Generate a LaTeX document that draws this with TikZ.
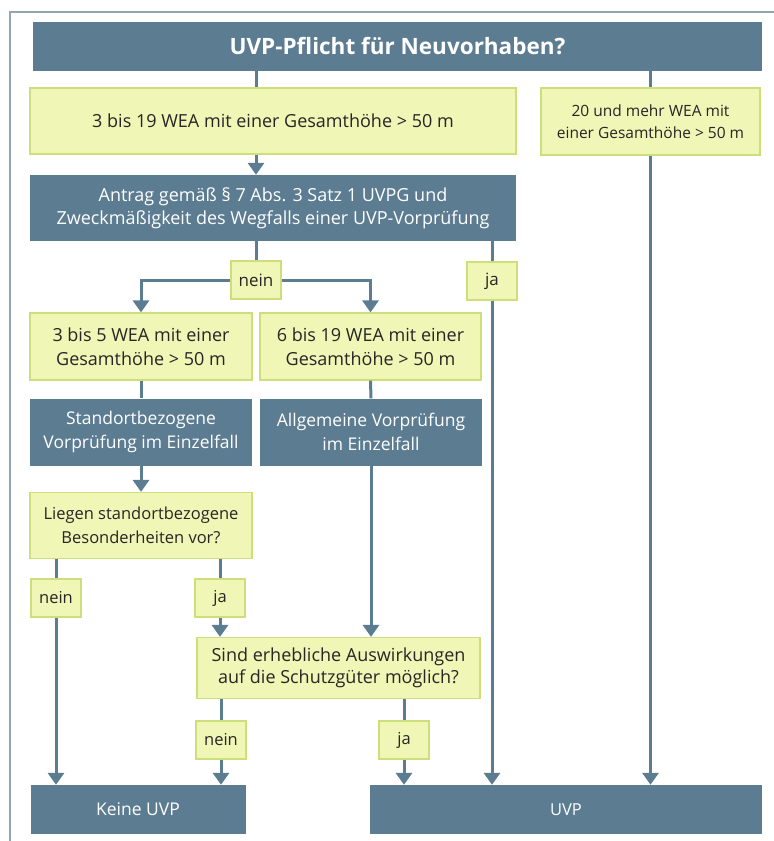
\documentclass[tikz,border=0pt]{standalone}
\usepackage{fontspec}
\setmainfont{Open Sans}
\usetikzlibrary{positioning}
\usetikzlibrary{arrows.meta}
\definecolor{slate}{RGB}{92,124,146}
\definecolor{paleYellow}{RGB}{239,246,182}
\definecolor{yellowEdge}{RGB}{206,222,122}
\definecolor{frameGray}{RGB}{150,166,176}
\definecolor{inkGray}{RGB}{38,38,38}

\begin{document}
\begin{tikzpicture}[x=1pt, y=-1pt,
  darkBox/.style={fill=slate, text=white, inner sep=0pt, align=center},
  lightBox/.style={fill=paleYellow, draw=yellowEdge, line width=1.2pt, text=inkGray,
    inner sep=0pt, align=center},
  labelBox/.style={lightBox, minimum width=50, minimum height=38},
  myLine/.style={slate, line width=3pt},
  myArrow/.style={myLine, -{Triangle[width=16pt,length=12pt]}}
]

\useasboundingbox (0,0) rectangle (774,841);

% frame
\draw[frameGray, line width=1.5pt] (10,841) -- (10,12) -- (774,12);

% top row
\node[darkBox, minimum width=729, minimum height=49,
  font=\bfseries\fontsize{22.5}{26}\selectfont] (titel) at (397.5,46.5)
  {UVP-Pflicht für Neuvorhaben?};

\node[lightBox, minimum width=486, minimum height=66,
  font=\fontsize{18}{22}\selectfont] (wea) at (273,121)
  {3 bis 19 WEA mit einer Gesamthöhe > 50 m};
\node[lightBox, minimum width=219, minimum height=67,
  font=\fontsize{15.5}{22}\selectfont] (mehr) at (650.5,121.5)
  {20 und mehr WEA mit\\einer Gesamthöhe > 50 m};

\node[darkBox, minimum width=486, minimum height=66,
  font=\fontsize{18}{23}\selectfont] (antrag) at (273,208)
  {Antrag gemäß § 7 Abs. 3 Satz 1 UVPG und\\Zweckmäßigkeit des Wegfalls einer UVP-Vorprüfung};

% answers of the Antrag
\node[labelBox, font=\fontsize{17}{20}\selectfont] (neinA) at (256,280) {nein};
\node[labelBox, font=\fontsize{17}{20}\selectfont] (jaA) at (492,281) {ja};

% two branches
\node[lightBox, minimum width=222, minimum height=67,
  font=\fontsize{18}{24}\selectfont] (klein) at (141,346.5)
  {3 bis 5 WEA mit einer\\Gesamthöhe > 50 m};
\node[lightBox, minimum width=221, minimum height=67,
  font=\fontsize{18}{24}\selectfont] (mittel) at (370.5,346.5)
  {6 bis 19 WEA mit einer\\Gesamthöhe > 50 m};

\node[darkBox, minimum width=222, minimum height=67,
  font=\fontsize{17.5}{24}\selectfont] (standort) at (141,432)
  {Standortbezogene\\Vorprüfung im Einzelfall};
\node[darkBox, minimum width=222, minimum height=67,
  font=\fontsize{17.5}{24}\selectfont] (allgemein) at (371,432)
  {Allgemeine Vorprüfung\\im Einzelfall};

\node[lightBox, minimum width=222, minimum height=66,
  font=\fontsize{16.5}{24}\selectfont] (liegen) at (141,525.5)
  {Liegen standortbezogene\\Besonderheiten vor?};

\node[labelBox, font=\fontsize{16.5}{20}\selectfont] (neinB) at (56,598) {nein};
\node[labelBox, font=\fontsize{16.5}{20}\selectfont] (jaB) at (220,598) {ja};

\node[lightBox, minimum width=283, minimum height=61,
  font=\fontsize{18}{22}\selectfont] (sind) at (338.5,668)
  {Sind erhebliche Auswirkungen\\auf die Schutzgüter möglich?};

\node[labelBox, font=\fontsize{16.5}{20}\selectfont] (neinC) at (221,740) {nein};
\node[labelBox, font=\fontsize{16.5}{20}\selectfont] (jaC) at (404,740) {ja};

% results
\node[darkBox, minimum width=215, minimum height=49,
  font=\fontsize{17.5}{20}\selectfont] (keine) at (138,809.5)
  {Keine UVP};
\node[darkBox, minimum width=392, minimum height=49,
  font=\fontsize{16.5}{20}\selectfont] (uvp) at (566,809.5)
  {UVP};

% connectors
\draw[myLine] (titel.south -| neinA) -- (wea.north -| neinA);
\draw[myLine] (titel.south -| mehr) -- (mehr.north);
\draw[myArrow] (wea.south -| neinA) -- (antrag.north -| neinA);
\draw[myArrow] (mehr.south) -- (mehr.south |- uvp.north);

\draw[myLine] (antrag.south -| neinA) -- (neinA.north);
\draw[myArrow] (neinA.west) -| (klein.north);
\draw[myArrow] (neinA.east) -| (mittel.north);
\draw[myLine] (antrag.south -| jaA) -- (jaA.north);
\draw[myArrow] (jaA.south) -- (jaA.south |- uvp.north);

\draw[myLine] (klein.south) -- (standort.north);
\draw[myLine] (mittel.south) -- (allgemein.north);
\draw[myArrow] (standort.south) -- (liegen.north);
\draw[myArrow] (allgemein.south) -- (allgemein.south |- sind.north);

\draw[myLine] (liegen.south -| neinB) -- (neinB.north);
\draw[myArrow] (neinB.south) -- (neinB.south |- keine.north);
\draw[myLine] (liegen.south -| jaB) -- (jaB.north);
\draw[myArrow] (jaB.south) -- (jaB.south |- sind.north);

\draw[myLine] (sind.south -| neinC) -- (neinC.north);
\draw[myArrow] (neinC.south) -- (neinC.south |- keine.north);
\draw[myLine] (sind.south -| jaC) -- (jaC.north);
\draw[myArrow] (jaC.south) -- (jaC.south |- uvp.north);

\end{tikzpicture}
\end{document}
